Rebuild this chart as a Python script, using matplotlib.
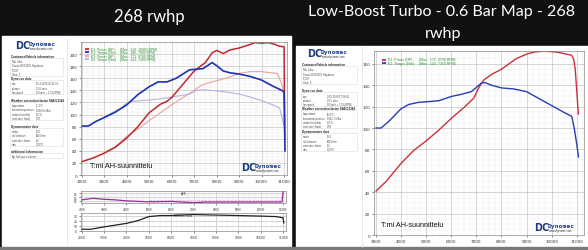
import numpy as np
import matplotlib.pyplot as plt
from matplotlib.patches import Rectangle
from matplotlib.lines import Line2D
from matplotlib.ticker import MultipleLocator

W, H = 588, 251

# left sheet: E1 = full boost run, E2 = low boost run
e1_hp_rpm = [2000, 2500, 3000, 3500, 4000, 4500, 5000, 5500, 5800, 6000, 6500, 7000, 7500, 7800,
             8000, 8300, 8600, 9000, 9500, 9700, 10000, 10300, 10600, 10800, 11000, 11030]
e1_hp = [22, 28, 36, 46, 61, 80, 103, 117, 122, 128, 150, 172, 186, 202,
         206, 201, 207, 210, 216, 219, 218, 219, 216, 213, 212, 60]
e1_tq_rpm = [2000, 2300, 2600, 3000, 3500, 4000, 4500, 5000, 5400, 5800, 6200, 6500, 6800, 7100,
             7400, 7800, 8000, 8300, 8600, 9000, 9500, 10000, 10500, 10900, 11000, 11040]
e1_tq = [81, 81, 88, 95, 104, 116, 133, 146, 154, 154, 160, 167, 174, 175,
         176, 186, 181, 172, 169, 167, 163, 157, 147, 140, 137, 40]
e2_hp_rpm = [3000, 3500, 4000, 4500, 5000, 5500, 6000, 6500, 7000, 7300, 7600, 8000, 8500,
             9000, 9500, 10000, 10400, 10700, 10900, 11000]
e2_hp = [37, 47, 64, 76, 90, 103, 116, 128, 140, 148, 152, 156, 161,
         168, 171, 171, 169, 168, 150, 136]
e2_tq_rpm = [3000, 3500, 3800, 4000, 4300, 5000, 5500, 6000, 6500, 6800, 7100, 7400, 8000,
             8500, 9000, 9500, 10000, 10500, 10800, 11000]
e2_tq = [96, 106, 112, 119, 122, 124, 126, 129, 132, 134, 140, 141, 139,
         137, 134, 129, 123, 116, 111, 81]

afr_rpm = [2000, 2500, 3000, 3500, 4000, 5000, 6000, 7000, 7500, 8000, 9000, 10000, 10950, 11000]
afr = [10.6, 11.9, 11.1, 10.6, 9.8, 9.0, 9.3, 8.2, 8.8, 8.8, 8.8, 8.8, 8.8, 17.5]
afr2 = [None, None, None, None, None, 10.6, 10.6, 10.6, 10.6, 10.6, 10.6, 10.6, 10.6, 10.6]
corr_rpm = [2000, 2400, 3000, 4000, 4500, 5000, 5500, 6000, 7000, 8000, 9000, 10000, 10700, 11000, 11030]
corr = [3.4, 3.4, 8, 14.8, 20, 28, 30, 30, 32, 31, 30, 29, 28, 25.6, 15.5]

# right sheet: low boost run only
r_hp_rpm = [3000, 3400, 4000, 4500, 5000, 5500, 6000, 6500, 6900, 7100, 7300, 7600, 8000, 8300,
            8600, 9000, 9300, 9700, 10200, 10600, 10800, 10880, 10940, 11000, 11066]
r_hp = [41, 50, 67, 79, 88, 98, 109, 119, 128, 138, 145, 150, 155, 160,
        165, 169, 171, 172, 171, 169, 168, 164, 155, 135, 113]
r_tq_rpm = [3000, 3200, 3500, 4000, 4300, 4700, 5000, 5500, 6000, 6400, 6800, 7000, 7200, 7350,
            7600, 8000, 8500, 9000, 9500, 10000, 10500, 10800, 10900, 11000, 11070]
r_tq = [100, 100, 106, 118, 122, 124, 124.5, 125.5, 129.5, 131.5, 134, 138, 142, 142.5,
        140, 137.5, 136.5, 134, 127.5, 121, 114.5, 111, 100, 85, 73]

left_legend = [('E1: Power (HP)', '(Max : 219, 10300 RPM)', '#c0282d'),
               ('E1: Torque (Nm)', '(Max : 186, 7800 RPM)', '#2030b0'),
               ('E2: Power (HP)', '(Max : 171, 9700 RPM)', '#e6a3a3'),
               ('E2: Torque (Nm)', '(Max : 141, 7400 RPM)', '#b4b4e2')]
right_legend = [('E1: Power (HP)', '(Max : 172, 9700 RPM)', '#c8323a'),
                ('E1: Torque (Nm)', '(Max : 142, 7350 RPM)', '#2a3ab8')]

left_info = [
    ('Customer/Vehicle information', 56.7, [('Niki Juho', ''), ('Suzuki GSX1300 Hayabusa', ''), ('JTC87', ''), ('Gear: 5', '')]),
    ('Dyno run data', 79, [('time', '16.3.2020 20:25:10'), ('duration', '12.0 secs'), ('fan speed', '20 km/h + 1.5%/RPM')]),
    ('Weather correction factor SAE/J1349', 100.7, [('temperature', '11.1°C'), ('barometric pressure', '1002,8 mBar'),
                                                    ('relative humidity', '52 %'), ('correction factor', '0.97')]),
    ('Dynamometer data', 126.7, [('inertia', '10.0'), ('roll diameter', '400.0mm'), ('correction factor', '1.3'), ('ratio', '3.2075')]),
    ('additional information', 151.7, [('Ap fuel tune no boost', '')]),
]
right_info = [
    ('Customer/Vehicle information', 65, [('Niki Juho', ''), ('Suzuki GSX1300 Hayabusa', ''), ('JTC87', ''), ('Gear: 5', '')]),
    ('Dyno run data', 91, [('time', '24.5.2020 17:58:41'), ('duration', '10.5 secs'), ('fan speed', '20 km/h + 1.5%/RPM')]),
    ('Weather correction factor SAE/J1349', 109, [('temperature', '16.0°C'), ('barometric pressure', '1012,7 mBar'),
                                                  ('relative humidity', '44 %'), ('correction factor', '0.98')]),
    ('Dynamometer data', 132, [('inertia', '10.0'), ('roll diameter', '400.0mm'), ('correction factor', '1.3'), ('ratio', '3.2075')]),
]

fig = plt.figure(figsize=(W / 100, H / 100), dpi=100, facecolor='#111111')


def box(x0, y0, x1, y1):
    return [x0 / W, 1 - y1 / H, (x1 - x0) / W, (y1 - y0) / H]


def T(x, y, s, **kw):
    kw.setdefault('family', 'Liberation Sans')
    kw.setdefault('va', 'center')
    return fig.text(x / W, 1 - y / H, s, **kw)


def hline(x0, x1, y, color, lw):
    fig.add_artist(Line2D([x0 / W, x1 / W], [1 - y / H, 1 - y / H], color=color, lw=lw,
                          transform=fig.transFigure, solid_capstyle='butt'))


# background: white sheets on a dark page
bg = fig.add_axes([0, 0, 1, 1])
bg.set_xlim(0, W)
bg.set_ylim(H, 0)
bg.axis('off')
bg.add_patch(Rectangle((2, 37), 289, 211, color='white'))
bg.add_patch(Rectangle((296, 47), 292, 201, color='white'))
bg.add_patch(Rectangle((0, 248), W, 3, color='#7a7a7a'))
bg.plot([67, 67], [40, 245], color='#dddddd', lw=0.5)
bg.plot([362, 362], [48, 248], color='#dddddd', lw=0.5)

T(149, 17, '268 rwhp', color='white', fontsize=12, family='Lato', ha='center')
T(442, 12, 'Low-Boost Turbo - 0.6 Bar Map - 268', color='white', fontsize=11.6, family='Lato', ha='center')
T(443, 34, 'rwhp', color='white', fontsize=11.6, family='Lato', ha='center')


def logo(x, y):
    T(x, y, 'DC', fontsize=7, fontweight='bold', color='#1d3a86', family='DejaVu Sans')
    T(x + 13.5, y - 1.5, 'Dynomec', fontsize=4.6, fontweight='bold', color='#1d3a86', family='DejaVu Sans Mono')
    T(x + 15, y + 3.2, 'www.dynomec.com', fontsize=1.9, color='#333333')


def sidebar(info, x0, x1):
    for head, y, rows in info:
        T(x0, y, head, fontsize=2.2, fontweight='bold', color='#222222')
        y_end = y + 2 + 4.3 * len(rows) + 1
        bg.add_patch(Rectangle((x0 - 1, y + 2), x1 - x0, y_end - y - 2, fill=False, ec='#dcdcdc', lw=0.4))
        for i, (lab, val) in enumerate(rows):
            yy = y + 5.5 + 4.3 * i
            T(x0 + 1, yy, lab, fontsize=1.8, color='#444444')
            T(x0 + 25, yy, val, fontsize=1.8, color='#444444')


sidebar(left_info, 11, 64)
sidebar(right_info, 302, 358)
logo(15, 46)
logo(307, 54)


def style(ax, fs=3):
    ax.tick_params(labelsize=fs, length=1.2, width=0.4, pad=1.5, colors='#333333')
    ax.tick_params(which='minor', length=0)
    for s in ax.spines.values():
        s.set_color('#8a8a8a')
        s.set_linewidth(0.5)
    ax.grid(True, which='major', color='#c4c4c4', lw=0.5)
    ax.grid(True, which='minor', color='#ececec', lw=0.35)
    ax.set_axisbelow(True)


# left main chart
ax = fig.add_axes(box(81, 43, 287, 176))
ax.plot(e2_hp_rpm, e2_hp, color='#e6a3a3', lw=0.8)
ax.plot(e2_tq_rpm, e2_tq, color='#b4b4e2', lw=0.8)
ax.plot(e1_hp_rpm, e1_hp, color='#c0282d', lw=1.1)
ax.plot(e1_tq_rpm, e1_tq, color='#2030b0', lw=1.2)
ax.set_xlim(1970, 11130)
ax.set_ylim(0, 220)
ax.xaxis.set_major_locator(MultipleLocator(1000))
ax.xaxis.set_minor_locator(MultipleLocator(250))
ax.yaxis.set_minor_locator(MultipleLocator(5))
ax.set_yticks(range(0, 220, 20))
style(ax)

for i, (name, mx, c) in enumerate(left_legend):
    y = 50 + 3.4 * i
    hline(85, 89, y, c, 1.3)
    T(91, y, name, fontsize=2.4, color='#2e8b2e')
    T(120, y, mx, fontsize=2.4, color='#2e8b2e')
T(90, 167, 'T:mi AH-suunnittelu', fontsize=5.2, color='#111111')
logo(241, 168)

# left small charts
ax2 = fig.add_axes(box(81, 192, 286, 204))
ax2.plot(afr_rpm, [v if v is not None else np.nan for v in afr2], color='#e3a8d8', lw=0.5, ls='--')
ax2.plot(afr_rpm, afr, color='#9b2a9b', lw=0.9)
ax2.set_xlim(1970, 11130)
ax2.set_ylim(8, 18)
ax2.set_yticks([10, 13, 16])
ax2.yaxis.set_minor_locator(MultipleLocator(1))
ax2.xaxis.set_major_locator(MultipleLocator(1000))
ax2.xaxis.set_minor_locator(MultipleLocator(250))
style(ax2, 2.0)
ax2.text(0.5, 0.85, 'AFR', transform=ax2.transAxes, fontsize=2.2, ha='center', va='center', color='#333333')

ax3 = fig.add_axes(box(81, 214, 286, 232))
ax3.plot(corr_rpm, corr, color='#222222', lw=0.9)
ax3.set_xlim(1970, 11130)
ax3.set_ylim(0, 35)
ax3.set_yticks([0, 10, 20, 30])
ax3.xaxis.set_major_locator(MultipleLocator(1000))
ax3.xaxis.set_minor_locator(MultipleLocator(250))
style(ax3, 2.2)
ax3.text(0.5, 0.9, 'CORRECTION', transform=ax3.transAxes, fontsize=2.2, ha='center', va='center', color='#333333')

# right main chart
axr = fig.add_axes(box(374, 52, 584, 236))
axr.plot(r_hp_rpm, r_hp, color='#c8323a', lw=1.0)
axr.plot(r_tq_rpm, r_tq, color='#2a3ab8', lw=1.0)
axr.set_xlim(2920, 11290)
axr.set_ylim(0, 172)
axr.xaxis.set_major_locator(MultipleLocator(1000))
axr.xaxis.set_minor_locator(MultipleLocator(250))
axr.yaxis.set_minor_locator(MultipleLocator(5))
axr.set_yticks(range(0, 180, 20))
style(axr)

for i, (name, mx, c) in enumerate(right_legend):
    y = 60.5 + 3.8 * i
    hline(382, 386, y, c, 1.3)
    T(388, y, name, fontsize=2.5, color='#2e8b2e')
    T(419, y, mx, fontsize=2.5, color='#2e8b2e')
T(381, 226, 'T:mi AH-suunnittelu', fontsize=5.2, color='#111111')
logo(534, 228)

fig.savefig('out.png', dpi=100, facecolor=fig.get_facecolor())
